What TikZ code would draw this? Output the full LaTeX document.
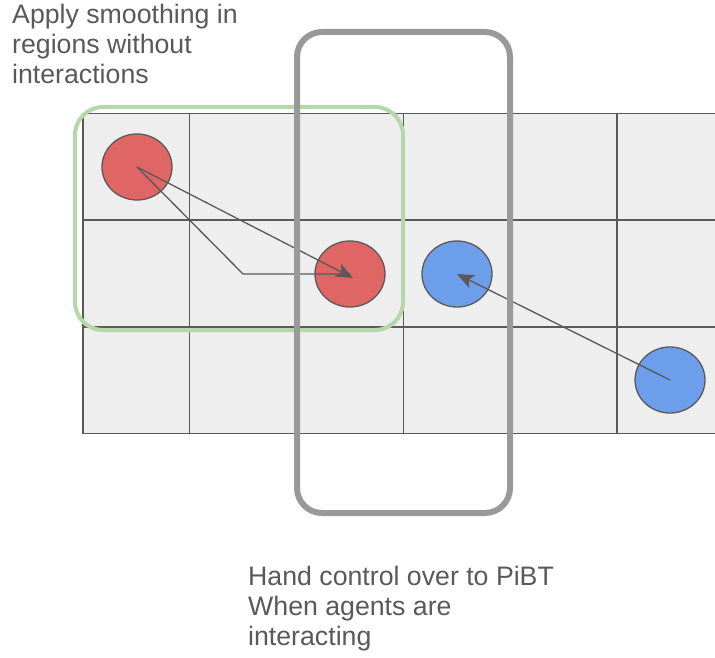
\documentclass[tikz,border=0pt]{standalone}
\usepackage{fontspec}
\setmainfont{Liberation Sans}
\usetikzlibrary{arrows.meta}
\usetikzlibrary{shapes.geometric}
\definecolor{gridline}{HTML}{595959}
\definecolor{cellfill}{HTML}{EEEEEE}
\definecolor{agentred}{HTML}{E06666}
\definecolor{agentblue}{HTML}{6D9EEB}
\definecolor{zonegreen}{HTML}{B6D7A8}
\definecolor{boxgray}{HTML}{999999}
\tikzset{
cellline/.style={draw=gridline, line width=1.3pt},
agent/.style={ellipse, draw=gridline, line width=1.3pt,
    minimum width=70pt, minimum height=66pt, inner sep=0pt},
redagent/.style={agent, fill=agentred},
blueagent/.style={agent, fill=agentblue},
move/.style={draw=gridline, line width=1.3pt,
    -{Stealth[length=17pt,width=14pt,inset=4pt]}},
route/.style={draw=gridline, line width=1.3pt},
note/.style={text=gridline, align=left, anchor=north west, inner sep=0pt,
    font=\fontsize{26.7}{30}\selectfont},
zonebox/.style={draw=zonegreen, line width=4pt, rounded corners=28pt},
pibtbox/.style={draw=boxgray, line width=6pt, rounded corners=25pt},
}

\begin{document}
\begin{tikzpicture}[x=1pt,y=-1pt]
    \clip (0,0) rectangle (715,658);
    % grid
    \fill[cellfill] (83,113.3) rectangle (725,433.7);
    \foreach \i in {0,...,3}
        \draw[cellline] (83,113.3+106.8*\i) -- (725,113.3+106.8*\i);
    \foreach \j in {0,...,6}
        \draw[cellline] (83+106.8*\j,113.3) -- (83+106.8*\j,433.7);
    % agents
    \node[redagent] (red1) at (137,167) {};
    \node[redagent] (red2) at (350,274) {};
    \node[blueagent] (blue1) at (457,274) {};
    \node[blueagent] (blue2) at (670,380) {};
    \coordinate (turn) at (243,274);
    \draw[route] (red1.center) -- (turn) -- (red2.center);
    \draw[move] (red1.center) -- ([shift={(3,4)}]red2.center);
    \draw[move] (blue2.center) -- (blue1.center);
    % regions
    \draw[zonebox] (75,107) rectangle (403,330);
    \draw[pibtbox] (297,32) rectangle (510,513);
    % notes
    \node[note] (smooth) at (12,3.5) {Apply smoothing in\\regions without\\interactions};
    \node[note] (pibt) at (248,566) {Hand control over to PiBT\\When agents are\\interacting};
\end{tikzpicture}
\end{document}
